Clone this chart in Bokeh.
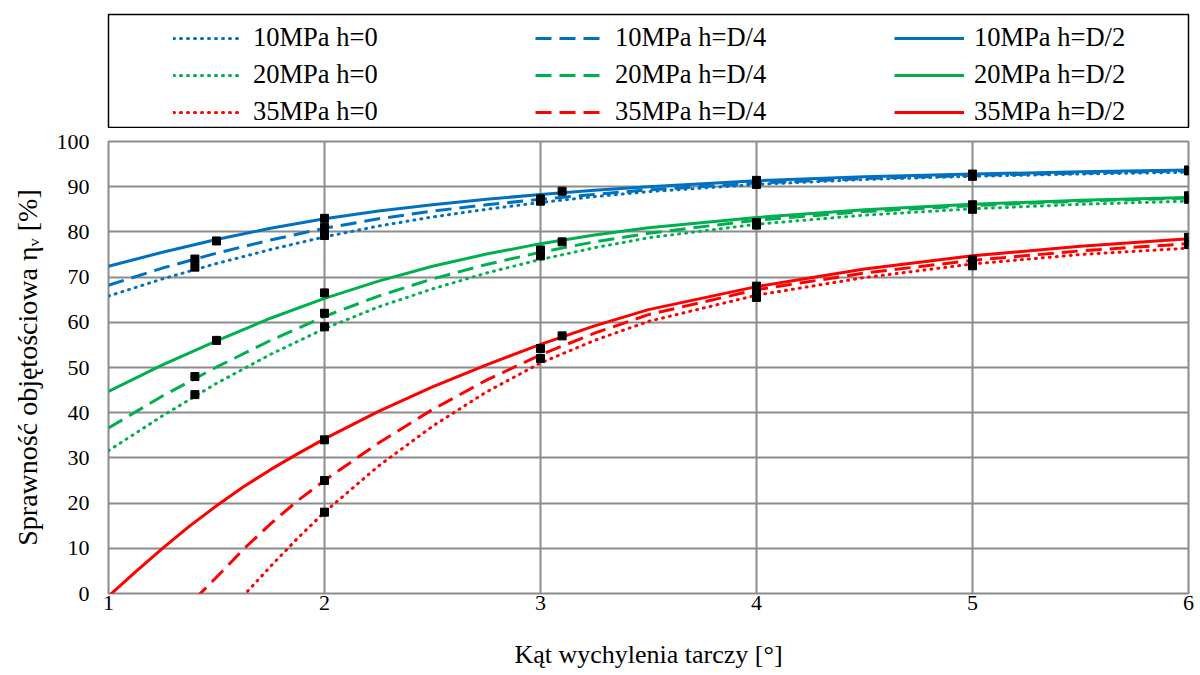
from bokeh.plotting import figure
from bokeh.models import Range1d, Legend, LegendItem, FixedTicker
from bokeh.layouts import column
from bokeh.embed import file_html
from bokeh.resources import INLINE

# ---------------- data ----------------
X_TICKS = [1, 2, 3, 4, 5, 6]
Y_TICKS = [0, 10, 20, 30, 40, 50, 60, 70, 80, 90, 100]

# trend curves
CURVE_X = [1.0, 1.25, 1.5, 1.75, 2.0, 2.25, 2.5, 2.75, 3.0, 3.25, 3.5, 4.0, 4.5, 5.0, 5.5, 6.0]
B0 = [65.8, 69.6, 73.0, 76.1, 78.9, 81.3, 83.3, 85.0, 86.5, 87.8, 88.9, 90.5, 91.6, 92.3, 92.8, 93.2]
B1 = [68.2, 72.0, 75.3, 78.2, 80.8, 82.9, 84.6, 86.0, 87.2, 88.3, 89.3, 90.8, 91.8, 92.5, 93.0, 93.5]
B2 = [72.4, 75.5, 78.3, 80.8, 82.9, 84.6, 86.0, 87.2, 88.3, 89.2, 90.0, 91.3, 92.2, 92.8, 93.3, 93.7]
G0 = [31.6, 39.3, 46.5, 52.9, 58.6, 63.4, 67.4, 70.9, 73.9, 76.5, 78.7, 81.7, 83.7, 85.1, 86.1, 86.8]
G1 = [36.6, 43.7, 50.1, 56.0, 61.3, 65.8, 69.6, 72.8, 75.5, 77.8, 79.7, 82.6, 84.5, 85.8, 86.8, 87.5]
G2 = [44.7, 50.6, 55.9, 60.9, 65.3, 69.1, 72.4, 75.1, 77.4, 79.3, 80.9, 83.2, 84.9, 86.1, 87.0, 87.6]
R2_X = [1.0, 1.125, 1.25, 1.375, 1.5, 1.625, 1.75, 1.875, 2.0, 2.25, 2.5, 2.75, 3.0, 3.25, 3.5, 4.0, 4.5, 5.0, 5.5, 6.0]
R2 = [-0.6, 4.8, 10.0, 14.9, 19.4, 23.6, 27.4, 30.9, 34.2, 40.3, 45.7, 50.6, 55.1, 59.2, 62.8, 67.9, 71.8, 74.7, 76.8, 78.5]
R1_X = [1.4, 1.5, 1.625, 1.75, 1.875, 2.0, 2.25, 2.5, 2.75, 3.0, 3.25, 3.5, 4.0, 4.5, 5.0, 5.5, 6.0]
R1 = [-1.2, 3.6, 9.8, 15.4, 20.5, 25.0, 33.3, 40.7, 47.2, 52.8, 57.6, 61.7, 67.2, 70.9, 73.7, 75.8, 77.4]
R0_X = [1.6, 1.75, 1.875, 2.0, 2.25, 2.5, 2.75, 3.0, 3.25, 3.5, 4.0, 4.5, 5.0, 5.5, 6.0]
R0 = [-1.8, 6.0, 12.2, 18.0, 28.2, 37.0, 44.6, 51.0, 56.0, 60.2, 66.0, 69.9, 72.9, 75.0, 76.4]

# measured points
PX_A = [1.4, 2, 3, 4, 5, 6]
PX_B = [1.5, 2, 3.1, 4, 5, 6]
PX_R = [2, 3, 4, 5, 6]
PX_R2 = [2, 3.1, 4, 5, 6]
PB0 = [72.2, 79.2, 86.8, 90.5, 92.3, 93.5]
PB1 = [74.0, 81.0, 87.3, 91.0, 92.6, 93.6]
PB2 = [78.0, 83.0, 89.0, 91.4, 92.8, 93.7]
PG0 = [44.0, 59.0, 74.7, 81.5, 85.0, 87.2]
PG1 = [48.0, 62.0, 76.0, 82.0, 85.6, 87.5]
PG2 = [56.0, 66.5, 77.8, 82.0, 86.0, 88.0]
PR0 = [18.0, 52.0, 65.5, 72.5, 77.2]
PR1 = [25.0, 54.2, 67.0, 73.0, 77.8]
PR2 = [34.0, 57.0, 68.0, 73.8, 78.8]

LABELS = [
    ["10MPa h=0", "20MPa h=0", "35MPa h=0"],
    ["10MPa h=D/4", "20MPa h=D/4", "35MPa h=D/4"],
    ["10MPa h=D/2", "20MPa h=D/2", "35MPa h=D/2"],
]
X_TITLE = "Kąt wychylenia tarczy [°]"
Y_TITLE = "Sprawność objętościowa ηᵥ [%]"

# ---------------- styles ----------------
BLUE, GREEN, RED = "#0070C0", "#00B050", "#FF0000"
COLORS = [BLUE, GREEN, RED]
DASH = ["1 6", "16 8", "solid"]
CAP = ["round", "butt", "butt"]
LW = 3
FONT = "Liberation Serif"
GRID = "#8c8c8c"

series = [
    # (color idx, style idx, curve x, curve y, pts x, pts y)
    (0, 0, CURVE_X, B0, PX_A, PB0),
    (0, 1, CURVE_X, B1, PX_A, PB1),
    (0, 2, CURVE_X, B2, PX_B, PB2),
    (1, 0, CURVE_X, G0, PX_A, PG0),
    (1, 1, CURVE_X, G1, PX_A, PG1),
    (1, 2, CURVE_X, G2, PX_B, PG2),
    (2, 0, R0_X, R0, PX_R, PR0),
    (2, 1, R1_X, R1, PX_R, PR1),
    (2, 2, R2_X, R2, PX_R2, PR2),
]

# ---------------- main plot ----------------
p = figure(width=1198, height=544, x_range=Range1d(1, 6), y_range=Range1d(0, 100),
           output_backend="svg", toolbar_location=None,
           min_border_left=107, min_border_right=8, min_border_top=13, min_border_bottom=79)
p.background_fill_color = "white"
p.border_fill_color = "white"
p.outline_line_color = GRID
p.outline_line_width = 2

p.xaxis.ticker = FixedTicker(ticks=X_TICKS)
p.yaxis.ticker = FixedTicker(ticks=Y_TICKS)
p.xgrid.grid_line_color = GRID
p.ygrid.grid_line_color = GRID
p.xgrid.grid_line_width = 2
p.ygrid.grid_line_width = 2

for ax in (p.xaxis, p.yaxis):
    ax.axis_line_color = None
    ax.major_tick_line_color = None
    ax.minor_tick_line_color = None
    ax.major_tick_in = 0
    ax.major_tick_out = 0
    ax.major_label_text_font = FONT
    ax.major_label_text_font_size = "22px"
    ax.major_label_text_color = "black"
    ax.axis_label_text_font = FONT
    ax.axis_label_text_font_style = "normal"
    ax.axis_label_text_color = "black"

p.xaxis.axis_label = X_TITLE
p.yaxis.axis_label = Y_TITLE
p.xaxis.axis_label_text_font_size = "26px"
p.yaxis.axis_label_text_font_size = "28px"
p.xaxis.major_label_standoff = 2
p.yaxis.major_label_standoff = 19
p.xaxis.axis_label_standoff = 27
p.yaxis.axis_label_standoff = 11

for ci, si, cx, cy, px, py in series:
    p.line(cx, cy, line_color=COLORS[ci], line_width=LW, line_dash=DASH[si], line_cap=CAP[si])
for ci, si, cx, cy, px, py in series:
    p.scatter(px, py, marker="square", size=8, fill_color="black", line_color="black")

# ---------------- legend box ----------------
# the legend frame shows no data: its x range lies left of every curve
lf = figure(width=1198, height=128, x_range=Range1d(-2, -1), y_range=Range1d(0, 100),
            output_backend="svg", toolbar_location=None,
            x_axis_location=None, y_axis_location=None,
            min_border_left=108, min_border_right=10, min_border_top=14, min_border_bottom=0)
lf.grid.visible = False
lf.outline_line_color = "black"
lf.outline_line_width = 1.5
lf.background_fill_color = "white"
lf.border_fill_color = "white"

col_x = [65, 427, 786]
for si in range(3):
    items = []
    for ci in range(3):
        _, _, cx, cy, _, _ = series[ci * 3 + si]
        r = lf.line(cx, cy, line_color=COLORS[ci], line_width=LW,
                    line_dash=DASH[si], line_cap=CAP[si])
        items.append(LegendItem(label=LABELS[si][ci], renderers=[r]))
    leg = Legend(items=items, location=(col_x[si], 1), orientation="vertical",
                 border_line_alpha=0, background_fill_alpha=0,
                 padding=0, margin=0, spacing=6,
                 label_height=26, glyph_height=26, glyph_width=70, label_standoff=10,
                 label_text_font=FONT, label_text_font_size="26.5px", label_text_color="black")
    lf.add_layout(leg)

layout = column(lf, p, spacing=0)
open("out.html", "w").write(file_html(layout, INLINE))
